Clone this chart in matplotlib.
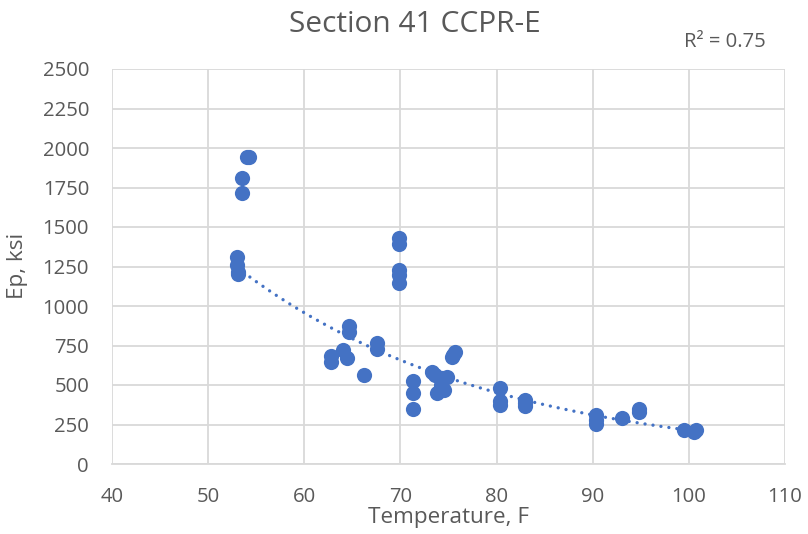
import numpy as np
import matplotlib
matplotlib.use("Agg")
import matplotlib.pyplot as plt

plt.rcParams['font.family'] = ['Open Sans', 'DejaVu Sans']

temperature = [54.2, 54.0, 53.5, 53.5, 53.0, 53.0, 53.1, 53.1,
               69.9, 69.9, 69.9, 69.9, 69.9,
               64.7, 64.7, 67.6, 67.6, 62.8, 62.8, 64.0, 64.4, 66.2,
               71.3, 71.3, 71.3, 73.3, 73.6, 74.3, 74.8, 73.8, 74.5, 74.2,
               75.5, 75.7, 75.4,
               80.4, 80.4, 80.4, 83.0, 83.0, 83.0,
               90.3, 90.3, 90.3, 93.0, 94.8, 94.8,
               99.5, 100.5, 100.7]
ep_ksi = [1945, 1940, 1808, 1713, 1310, 1259, 1215, 1205,
          1428, 1392, 1228, 1196, 1148,
          873, 837, 768, 726, 684, 647, 722, 669, 563,
          527, 449, 347, 580, 565, 542, 553, 447, 470, 500,
          690, 711, 679,
          479, 400, 375, 405, 385, 370,
          310, 280, 252, 289, 345, 332,
          215, 205, 218]

# exponential trendline y = a * exp(b * x), coefficients
trend_a = 9080.0
trend_b = -0.0375

x_ticks = [40, 50, 60, 70, 80, 90, 100, 110]
y_ticks = [0, 250, 500, 750, 1000, 1250, 1500, 1750, 2000, 2250, 2500]
title = "Section 41 CCPR-E"
r2_label = "R² = 0.75"

blue = "#4472C4"
grey_text = "#595959"
W, H = 808, 534

fig = plt.figure(figsize=(W/100, H/100), dpi=100)
L, R, T, B = 112, 785, 69, 464
ax = fig.add_axes([L/W, 1-B/H, (R-L)/W, (B-T)/H])

ax.scatter(temperature, ep_ksi, s=120, color=blue, zorder=3, linewidths=0)

xa = np.array(temperature)
xs = np.linspace(xa.min(), xa.max(), 300)
ax.plot(xs, trend_a * np.exp(trend_b * xs), color=blue, lw=2.4,
        linestyle=(0, (0.01, 2.4)), dash_capstyle='round', zorder=2)

ax.set_xlim(40, 110)
ax.set_ylim(0, 2500)
ax.set_xticks(x_ticks)
ax.set_yticks(y_ticks)
ax.grid(True, color="#D9D9D9", lw=1.3)
ax.set_axisbelow(True)
for s in ['top', 'right', 'left']:
    ax.spines[s].set_visible(False)
ax.spines['bottom'].set_color("#D9D9D9")
ax.spines['bottom'].set_linewidth(1.3)
ax.tick_params(length=0, labelsize=14.6, labelcolor=grey_text)
ax.tick_params(axis='y', pad=16.5)
ax.tick_params(axis='x', pad=16.5)

fig.text((L+R)/2/W, 1-517/H, "Temperature, F", ha='center', va='center',
         fontsize=16.2, color=grey_text)
fig.text(18/W, 1-266/H, "Ep, ksi", ha='center', va='center', rotation=90,
         fontsize=16.2, color=grey_text)

fig.text(541/W, 1-24/H, title, ha='right', va='center', fontsize=21.5, color=grey_text)
fig.text(766/W, 1-42/H, r2_label, ha='right', va='center', fontsize=14.6, color=grey_text)

fig.savefig("out.png", dpi=100)
